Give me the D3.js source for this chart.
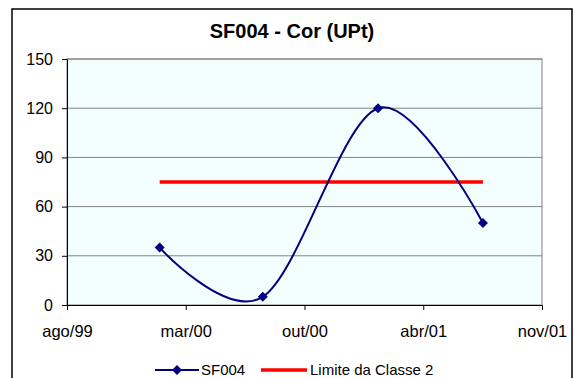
<!DOCTYPE html>
<html>
<head>
<meta charset="utf-8">
<script src="https://cdn.jsdelivr.net/npm/d3@7"></script>
<style>
  html, body { margin: 0; padding: 0; background: #ffffff; }
  svg { display: block; font-family: "Liberation Sans", Arial, sans-serif; }
</style>
</head>
<body>
<script>
// ---- data ----
const title = "SF004 - Cor (UPt)";
const sampleDates = ["2000-01-27", "2000-07-23", "2001-02-07", "2001-08-07"];
const sf004Values = [35, 5, 120, 50];
const limitValues = [75, 75, 75, 75];
const seriesNames = ["SF004", "Limite da Classe 2"];
const xTickDates = ["1999-08-20", "2000-03-12", "2000-10-03", "2001-04-26", "2001-11-17"];
const xTickLabels = ["ago/99", "mar/00", "out/00", "abr/01", "nov/01"];
const yTicks = [0, 30, 60, 90, 120, 150];

// ---- layout ----
const W = 575, H = 378;
const plot = { left: 67, right: 542, top: 59, bottom: 305 };
const parse = d3.utcParse("%Y-%m-%d");

const svg = d3.select("body").append("svg").attr("width", W).attr("height", H);

// outer frame
svg.append("rect")
  .attr("x", 12).attr("y", 9).attr("width", 560).attr("height", 380)
  .attr("fill", "#ffffff").attr("stroke", "#000000").attr("stroke-width", 1.5);

const x = d3.scaleUtc()
  .domain([parse(xTickDates[0]), parse(xTickDates[xTickDates.length - 1])])
  .range([plot.left, plot.right]);
const y = d3.scaleLinear().domain([0, 150]).range([plot.bottom, plot.top]);

// plot area background
svg.append("rect")
  .attr("x", plot.left).attr("y", plot.top)
  .attr("width", plot.right - plot.left).attr("height", plot.bottom - plot.top)
  .attr("fill", "#F3FFFF").attr("stroke", "#808080").attr("stroke-width", 1);

// gridlines
svg.append("g").selectAll("line").data(yTicks.filter(v => v > 0)).join("line")
  .attr("x1", plot.left).attr("x2", plot.right)
  .attr("y1", d => y(d)).attr("y2", d => y(d))
  .attr("stroke", "#808080").attr("stroke-width", 1);

// title
svg.append("text")
  .attr("x", 292).attr("y", 38)
  .attr("text-anchor", "middle")
  .attr("font-size", 20).attr("font-weight", "bold")
  .text(title);

// y axis
const yAxis = svg.append("g")
  .attr("transform", `translate(${plot.left},0)`)
  .call(d3.axisLeft(y).tickValues(yTicks).tickSize(5).tickPadding(9).tickSizeOuter(0));
yAxis.select(".domain").attr("stroke", "#000");
yAxis.selectAll("text").attr("font-size", 16).attr("fill", "#000").attr("font-family", null);

// x axis
const xAxis = svg.append("g")
  .attr("transform", `translate(0,${plot.bottom})`)
  .call(d3.axisBottom(x)
    .tickValues(xTickDates.map(parse))
    .tickFormat((d, i) => xTickLabels[i])
    .tickSize(5).tickPadding(15).tickSizeOuter(0));
xAxis.select(".domain").attr("stroke", "#000");
xAxis.selectAll("text").attr("font-size", 16.5).attr("fill", "#000").attr("font-family", null);

// limit line
const limitData = sampleDates.map((d, i) => ({ date: parse(d), value: limitValues[i] }));
svg.append("path")
  .datum(limitData)
  .attr("fill", "none").attr("stroke", "#FF0000").attr("stroke-width", 3.5)
  .attr("d", d3.line().x(d => x(d.date)).y(d => y(d.value)));

// SF004 series
const sfData = sampleDates.map((d, i) => ({ date: parse(d), value: sf004Values[i] }));
svg.append("path")
  .datum(sfData)
  .attr("fill", "none").attr("stroke", "#000080").attr("stroke-width", 2)
  .attr("d", d3.line().curve(d3.curveCardinal.tension(0)).x(d => x(d.date)).y(d => y(d.value)));

const diamond = d3.symbol().type(d3.symbolSquare).size(50);
svg.append("g").selectAll("path").data(sfData).join("path")
  .attr("d", diamond)
  .attr("transform", d => `translate(${x(d.date)},${y(d.value)}) rotate(45)`)
  .attr("fill", "#000080");

// legend
const legY = 370;
const leg = svg.append("g");
leg.append("line").attr("x1", 155).attr("x2", 199).attr("y1", legY).attr("y2", legY)
  .attr("stroke", "#000080").attr("stroke-width", 2);
leg.append("path").attr("d", diamond)
  .attr("transform", `translate(177,${legY}) rotate(45)`).attr("fill", "#000080");
leg.append("text").attr("x", 201).attr("y", 375).attr("font-size", 15).text(seriesNames[0]);
leg.append("line").attr("x1", 261).attr("x2", 307).attr("y1", legY).attr("y2", legY)
  .attr("stroke", "#FF0000").attr("stroke-width", 3.5);
leg.append("text").attr("x", 310).attr("y", 375).attr("font-size", 15).text(seriesNames[1]);
</script>
</body>
</html>
